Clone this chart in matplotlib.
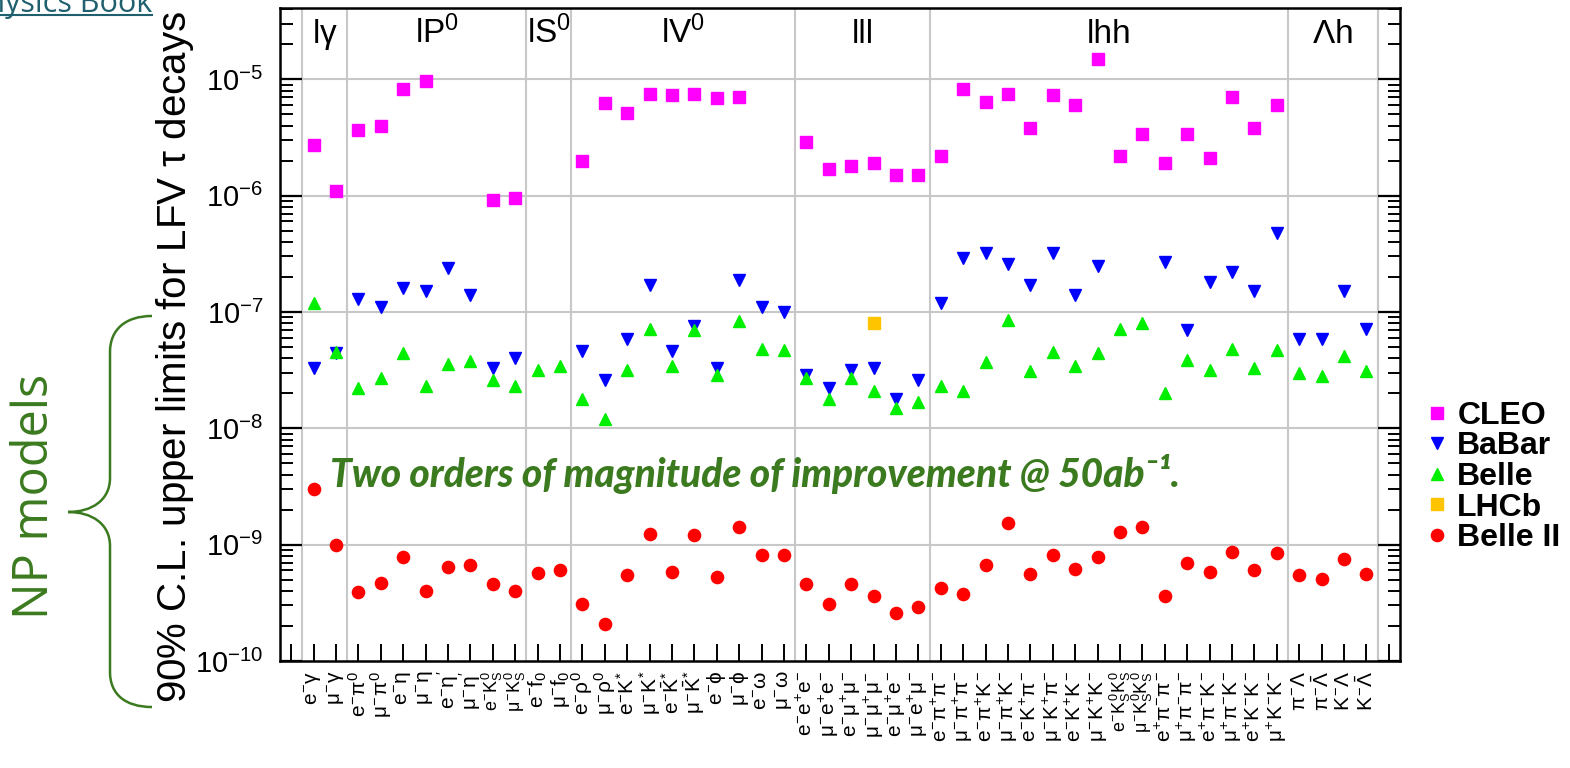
import numpy as np
import matplotlib
matplotlib.use("Agg")
import matplotlib.pyplot as plt
from matplotlib.path import Path
from matplotlib.patches import PathPatch
from matplotlib.lines import Line2D
from matplotlib.ticker import FixedLocator, NullFormatter, LogFormatterSciNotation
import matplotlib.transforms as mtransforms

plt.rcParams['font.family'] = ['Liberation Sans', 'DejaVu Sans']
plt.rcParams['mathtext.fontset'] = 'custom'
plt.rcParams['mathtext.rm'] = 'Liberation Sans'
plt.rcParams['mathtext.it'] = 'Liberation Sans'
plt.rcParams['mathtext.bf'] = 'Liberation Sans:bold'
plt.rcParams['mathtext.sf'] = 'Liberation Sans'

# --- decay channels, one bin each (first and last bin stay empty) ---
channels = [
    r"$e^{-}\gamma$", r"$\mu^{-}\gamma$",
    r"$e^{-}\pi^{0}$", r"$\mu^{-}\pi^{0}$", r"$e^{-}\eta$", r"$\mu^{-}\eta$",
    r"$e^{-}\eta'$", r"$\mu^{-}\eta'$", r"$e^{-}K_{S}^{0}$", r"$\mu^{-}K_{S}^{0}$",
    r"$e^{-}f_{0}$", r"$\mu^{-}f_{0}$",
    r"$e^{-}\rho^{0}$", r"$\mu^{-}\rho^{0}$", r"$e^{-}K^{*}$", r"$\mu^{-}K^{*}$",
    r"$e^{-}\bar{K}^{*}$", r"$\mu^{-}\bar{K}^{*}$", r"$e^{-}\phi$", r"$\mu^{-}\phi$",
    r"$e^{-}\omega$", r"$\mu^{-}\omega$",
    r"$e^{-}e^{+}e^{-}$", r"$\mu^{-}e^{+}e^{-}$", r"$e^{-}\mu^{+}\mu^{-}$",
    r"$\mu^{-}\mu^{+}\mu^{-}$", r"$e^{-}\mu^{+}e^{-}$", r"$\mu^{-}e^{+}\mu^{-}$",
    r"$e^{-}\pi^{+}\pi^{-}$", r"$\mu^{-}\pi^{+}\pi^{-}$", r"$e^{-}\pi^{+}K^{-}$",
    r"$\mu^{-}\pi^{+}K^{-}$", r"$e^{-}K^{+}\pi^{-}$", r"$\mu^{-}K^{+}\pi^{-}$",
    r"$e^{-}K^{+}K^{-}$", r"$\mu^{-}K^{+}K^{-}$", r"$e^{-}K_{S}^{0}K_{S}^{0}$",
    r"$\mu^{-}K_{S}^{0}K_{S}^{0}$", r"$e^{+}\pi^{-}\pi^{-}$", r"$\mu^{+}\pi^{-}\pi^{-}$",
    r"$e^{+}\pi^{-}K^{-}$", r"$\mu^{+}\pi^{-}K^{-}$", r"$e^{+}K^{-}K^{-}$",
    r"$\mu^{+}K^{-}K^{-}$",
    r"$\pi^{-}\Lambda$", r"$\pi^{-}\bar{\Lambda}$", r"$K^{-}\Lambda$", r"$K^{-}\bar{\Lambda}$",
]
groups = [r"l$\gamma$", r"lP$^{0}$", r"lS$^{0}$", r"lV$^{0}$", "lll", "lhh", r"$\Lambda$h"]
group_sizes = [2, 8, 2, 10, 6, 16, 4]

# 90% C.L. upper limits (None = no result)
cleo = [2.7e-6, 1.1e-6,
        3.7e-6, 4.0e-6, 8.2e-6, 9.6e-6, None, None, 9.1e-7, 9.5e-7,
        None, None,
        2.0e-6, 6.3e-6, 5.1e-6, 7.5e-6, 7.4e-6, 7.5e-6, 6.9e-6, 7.0e-6, None, None,
        2.9e-6, 1.7e-6, 1.8e-6, 1.9e-6, 1.5e-6, 1.5e-6,
        2.2e-6, 8.2e-6, 6.4e-6, 7.5e-6, 3.8e-6, 7.4e-6, 6.0e-6, 1.5e-5,
        2.2e-6, 3.4e-6, 1.9e-6, 3.4e-6, 2.1e-6, 7.0e-6, 3.8e-6, 6.0e-6,
        None, None, None, None]
babar = [3.3e-8, 4.4e-8,
         1.3e-7, 1.1e-7, 1.6e-7, 1.5e-7, 2.4e-7, 1.4e-7, 3.3e-8, 4.0e-8,
         None, None,
         4.6e-8, 2.6e-8, 5.9e-8, 1.7e-7, 4.6e-8, 7.6e-8, 3.3e-8, 1.9e-7, 1.1e-7, 1.0e-7,
         2.9e-8, 2.2e-8, 3.2e-8, 3.3e-8, 1.8e-8, 2.6e-8,
         1.2e-7, 2.9e-7, 3.2e-7, 2.6e-7, 1.7e-7, 3.2e-7, 1.4e-7, 2.5e-7,
         None, None, 2.7e-7, 7.0e-8, 1.8e-7, 2.2e-7, 1.5e-7, 4.8e-7,
         5.8e-8, 5.9e-8, 1.5e-7, 7.2e-8]
belle = [1.2e-7, 4.5e-8,
         2.2e-8, 2.7e-8, 4.4e-8, 2.3e-8, 3.6e-8, 3.8e-8, 2.6e-8, 2.3e-8,
         3.2e-8, 3.4e-8,
         1.8e-8, 1.2e-8, 3.2e-8, 7.2e-8, 3.4e-8, 7.0e-8, 2.9e-8, 8.4e-8, 4.8e-8, 4.7e-8,
         2.7e-8, 1.8e-8, 2.7e-8, 2.1e-8, 1.5e-8, 1.7e-8,
         2.3e-8, 2.1e-8, 3.7e-8, 8.6e-8, 3.1e-8, 4.5e-8, 3.4e-8, 4.4e-8,
         7.1e-8, 8.0e-8, 2.0e-8, 3.9e-8, 3.2e-8, 4.8e-8, 3.3e-8, 4.7e-8,
         3.0e-8, 2.8e-8, 4.2e-8, 3.1e-8]
lhcb = [None] * 25 + [8.0e-8] + [None] * 22
belle2 = [3.0e-9, 1.0e-9,
          3.9e-10, 4.7e-10, 7.9e-10, 4.0e-10, 6.4e-10, 6.7e-10, 4.6e-10, 4.0e-10,
          5.7e-10, 6.0e-10,
          3.1e-10, 2.1e-10, 5.5e-10, 1.23e-9, 5.8e-10, 1.2e-9, 5.3e-10, 1.43e-9, 8.2e-10, 8.1e-10,
          4.6e-10, 3.1e-10, 4.6e-10, 3.6e-10, 2.6e-10, 2.9e-10,
          4.2e-10, 3.8e-10, 6.7e-10, 1.54e-9, 5.6e-10, 8.1e-10, 6.2e-10, 7.9e-10,
          1.28e-9, 1.43e-9, 3.6e-10, 7.0e-10, 5.8e-10, 8.6e-10, 6.0e-10, 8.5e-10,
          5.5e-10, 5.1e-10, 7.6e-10, 5.6e-10]

experiments = [
    ("CLEO", cleo, "s", "#ff00ff"),
    ("BaBar", babar, "v", "#0000ff"),
    ("Belle", belle, "^", "#00ee00"),
    ("LHCb", lhcb, "s", "#ffc400"),
    ("Belle II", belle2, "o", "#ff0000"),
]

nbins = len(channels) + 2
xpos = np.arange(1, len(channels) + 1) + 0.5

W, H = 1570, 768
fig = plt.figure(figsize=(W / 100, H / 100), dpi=100)
ax = fig.add_axes([280 / W, 1 - 661 / H, 1120 / W, 653 / H])

ax.set_yscale("log")
ax.set_xlim(0, nbins)
ax.set_ylim(1e-10, 4.1e-5)

# grid: group separators and decades
edges = np.cumsum([1] + group_sizes)
for e in list(edges) + [nbins - 1]:
    ax.axvline(e, color="#c8c8c8", lw=1.5, zorder=0)
for dec in [1e-9, 1e-8, 1e-7, 1e-6, 1e-5]:
    ax.axhline(dec, color="#c8c8c8", lw=1.5, zorder=0)

for name, vals, mk, col in experiments:
    y = np.array(vals, dtype=float)
    ax.plot(xpos, y, ls="none", marker=mk, ms=8.8, color=col, mec=col, zorder=3)

# group names along the top
trans = mtransforms.blended_transform_factory(ax.transData, ax.transAxes)
starts = edges[:-1]
for g, s, n in zip(groups, starts, group_sizes):
    ax.text(s + n / 2, 0.947, g, transform=trans, ha="center", va="baseline",
            fontsize=24)

# x axis: a tick for every bin, labels for the channels
ax.xaxis.set_major_locator(FixedLocator(np.arange(nbins) + 0.5))
ax.set_xticklabels([""] + channels + [""], rotation=90, fontsize=15)
# the K_S labels stack sub- and superscripts, keep them a bit narrower
for lab in ax.get_xticklabels():
    if "K_{S}" in lab.get_text():
        lab.set_fontsize(13)
ax.tick_params(axis="x", direction="in", length=12, width=1.4, pad=7, bottom=True, top=False)

# y axis: decades + minor ticks, on both sides
ax.yaxis.set_major_locator(FixedLocator([10.0 ** k for k in range(-10, -4)]))
minors = [m * 10.0 ** k for k in range(-10, -4) for m in range(2, 10)]
ax.yaxis.set_minor_locator(FixedLocator(minors))
ax.yaxis.set_major_formatter(LogFormatterSciNotation())
ax.yaxis.set_minor_formatter(NullFormatter())
ax.tick_params(axis="y", which="major", direction="in", length=16, width=1.6,
               labelsize=21, pad=12, left=True, right=True)
ax.tick_params(axis="y", which="minor", direction="in", length=9, width=1.4,
               left=True, right=True)
for sp in ax.spines.values():
    sp.set_linewidth(1.8)

fig.text(175 / W, 1 - 357 / H, r"90% C.L. upper limits for LFV $\tau$ decays",
         rotation=90, ha="center", va="center", fontsize=29)

handles = [Line2D([], [], ls="none", marker=mk, ms=8.8, color=col, mec=col)
           for _, _, mk, col in experiments]
fig.legend(handles, [e[0] for e in experiments], loc="center left",
           bbox_to_anchor=(1427 / W, 1 - 477 / H), frameon=False,
           prop={"weight": "bold", "size": 23}, handlelength=0.6,
           handletextpad=0.35, labelspacing=0.02, borderpad=0,
           borderaxespad=0)

# overlay in pixel coordinates for the side notes
ov = fig.add_axes([0, 0, 1, 1])
ov.set_xlim(0, W)
ov.set_ylim(H, 0)
ov.axis("off")

green = "#3b7a1f"
brace = Path(
    [(152, 316), (125, 316), (110, 330), (110, 352),
     (110, 478),
     (110, 500), (92, 512), (68, 512),
     (92, 512), (110, 524), (110, 546),
     (110, 672),
     (110, 694), (125, 707), (152, 707)],
    [Path.MOVETO, Path.CURVE4, Path.CURVE4, Path.CURVE4,
     Path.LINETO,
     Path.CURVE4, Path.CURVE4, Path.CURVE4,
     Path.CURVE4, Path.CURVE4, Path.CURVE4,
     Path.LINETO,
     Path.CURVE4, Path.CURVE4, Path.CURVE4])
ov.add_patch(PathPatch(brace, fill=False, edgecolor=green, lw=1.8))

ov.text(35, 496, "NP models", rotation=90, ha="center", va="center",
        fontsize=35, color=green, family=["Open Sans", "DejaVu Sans"])

ov.text(330, 487, "Two orders of magnitude of improvement @ 50ab⁻¹.",
        ha="left", va="baseline", fontsize=28, color=green,
        family=["Lato", "DejaVu Sans"], weight="black", style="italic")

link = "#1f5f6e"
ov.text(152, 12, "Physics Book", ha="right", va="baseline", fontsize=22,
        color=link, family=["Open Sans", "DejaVu Sans"])
ov.plot([0, 152], [14.5, 14.5], color=link, lw=1.5)

fig.savefig("out.png", dpi=100)
